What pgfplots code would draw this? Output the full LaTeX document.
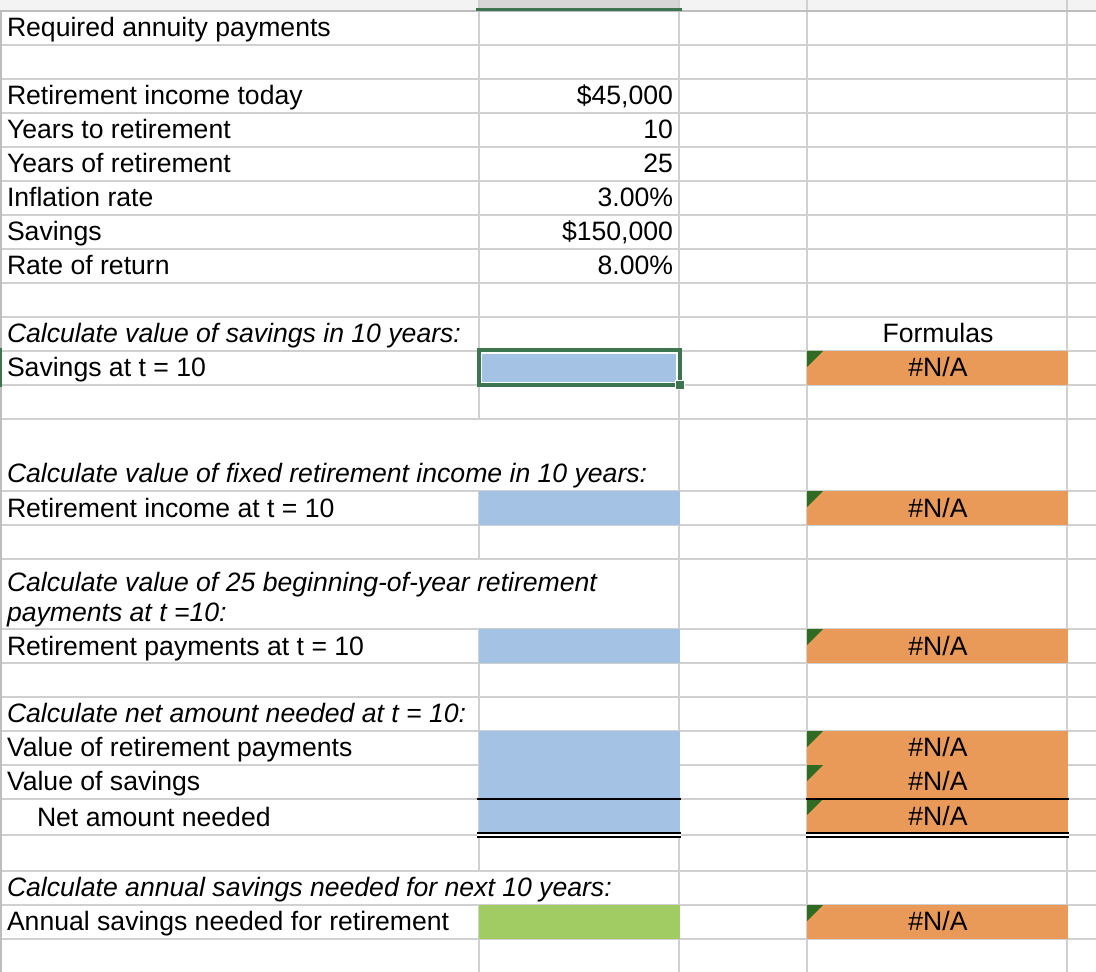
\documentclass[border=0pt]{standalone}
\usepackage{pgfplots}
\pgfplotsset{compat=1.18}
\usepackage{fontspec}
\setmainfont{Liberation Sans}
\definecolor{gridc}{HTML}{D0D0D0}
\definecolor{cellblue}{HTML}{A4C2E4}
\definecolor{cellorange}{HTML}{EA9A58}
\definecolor{cellgreen}{HTML}{A1CC63}
\definecolor{selgreen}{HTML}{3C7550}
\definecolor{tri}{HTML}{2F6B22}
\definecolor{hdr}{HTML}{F3F3F3}
\definecolor{hdrsel}{HTML}{D6D6D6}
\definecolor{hdrline}{HTML}{BDBDBD}
\newcommand\fs{\fontsize{13.3pt}{15pt}\selectfont}
\newcommand\cell[5]{\addplot[fill=#5,draw=none,forget plot] coordinates {(#1,#2) (#3,#2) (#3,#4) (#1,#4)} -- cycle;}
\newcommand\tri[1]{\addplot[fill=tri,draw=none,forget plot] coordinates {(807,#1) (823,#1) (807,#1+16)} -- cycle;}
\begin{document}
\begin{tikzpicture}[tx/.style={inner sep=0pt, outer sep=0pt, font=\fs}]
\begin{axis}[scale only axis, width=548pt, height=486pt,
  xmin=0, xmax=1096, ymin=0, ymax=972, y dir=reverse,
  axis lines=none, clip=false]
% header strip
\cell{0}{0}{1096}{10}{hdr}
\cell{478}{0}{680}{10}{hdrsel}
\pgfplotsinvokeforeach{479,679,807,1067}{\draw[gridc, line width=1pt] (axis cs:#1,0) -- (axis cs:#1,10);}
% horizontal grid
\pgfplotsinvokeforeach{45,79,113,147,181,215,249,283,317,351,385,419,491,525,559,629,663,697,731,765,799,835,871,905,939}{\draw[gridc, line width=0.55pt] (axis cs:0,#1) -- (axis cs:1096,#1);}
% vertical grid
\draw[gridc, line width=0.55pt] (axis cs:479,11) -- (axis cs:479,419);
\draw[gridc, line width=0.55pt] (axis cs:479,491) -- (axis cs:479,559);
\draw[gridc, line width=0.55pt] (axis cs:479,629) -- (axis cs:479,871);
\draw[gridc, line width=0.55pt] (axis cs:479,905) -- (axis cs:479,972);
\pgfplotsinvokeforeach{679,807,1067}{\draw[gridc, line width=0.55pt] (axis cs:#1,11) -- (axis cs:#1,972);}
% header bottom line
\draw[hdrline, line width=1pt] (axis cs:0,11) -- (axis cs:1096,11);
\draw[selgreen, line width=1.5pt] (axis cs:476,9.3) -- (axis cs:682,9.3);
% left edge
\draw[hdrline, line width=1.2pt] (axis cs:1,11) -- (axis cs:1,972);
\draw[selgreen, line width=1.2pt] (axis cs:1,348) -- (axis cs:1,387);
% blue input cells
\cell{482}{354}{676}{382}{cellblue}
\cell{479}{491}{680}{525}{cellblue}
\cell{479}{629}{680}{663}{cellblue}
\cell{479}{731}{680}{833}{cellblue}
\cell{479}{905}{680}{939}{cellgreen}
% orange formula cells
\cell{807}{351}{1068}{385}{cellorange}
\cell{807}{491}{1068}{525}{cellorange}
\cell{807}{629}{1068}{663}{cellorange}
\cell{807}{731}{1068}{833}{cellorange}
\cell{807}{905}{1068}{939}{cellorange}
% comment triangles
\tri{351}\tri{491}\tri{629}\tri{731}\tri{765}\tri{799}\tri{905}
% borders
\draw[black, line width=0.75pt] (axis cs:477,799) -- (axis cs:681,799);
\draw[black, line width=0.75pt] (axis cs:806,799) -- (axis cs:1069,799);
\cell{477}{833}{681}{837}{white}
\cell{806}{833}{1069}{837}{white}
\draw[black, line width=0.65pt] (axis cs:477,833) -- (axis cs:681,833);
\draw[black, line width=0.65pt] (axis cs:477,837) -- (axis cs:681,837);
\draw[black, line width=0.65pt] (axis cs:806,833) -- (axis cs:1069,833);
\draw[black, line width=0.65pt] (axis cs:806,837) -- (axis cs:1069,837);
% selected cell
\draw[selgreen, line width=2pt] (axis cs:478.5,350.3) rectangle (axis cs:679.5,385.5);
\draw[white, line width=0.5pt, fill=selgreen] (axis cs:675,381) rectangle (axis cs:684,390);
% texts column A
\node[tx, anchor=base west] at (axis cs:7,37) {Required annuity payments};
\node[tx, anchor=base west] at (axis cs:7,105) {Retirement income today};
\node[tx, anchor=base west] at (axis cs:7,139) {Years to retirement};
\node[tx, anchor=base west] at (axis cs:7,173) {Years of retirement};
\node[tx, anchor=base west] at (axis cs:7,207) {Inflation rate};
\node[tx, anchor=base west] at (axis cs:7,241) {Savings};
\node[tx, anchor=base west] at (axis cs:7,275) {Rate of return};
\node[tx, anchor=base west] at (axis cs:7,343) {\itshape Calculate value of savings in 10 years:};
\node[tx, anchor=base west] at (axis cs:7,377) {Savings at t = 10};
\node[tx, anchor=base west] at (axis cs:7,482) {\itshape Calculate value of fixed retirement income in 10 years:};
\node[tx, anchor=base west] at (axis cs:7,517) {Retirement income at t = 10};
\node[tx, anchor=base west] at (axis cs:7,591) {\itshape Calculate value of 25 beginning-of-year retirement};
\node[tx, anchor=base west] at (axis cs:7,621) {\itshape payments at t =10:};
\node[tx, anchor=base west] at (axis cs:7,655) {Retirement payments at t = 10};
\node[tx, anchor=base west] at (axis cs:7,722) {\itshape Calculate net amount needed at t = 10:};
\node[tx, anchor=base west] at (axis cs:7,756) {Value of retirement payments};
\node[tx, anchor=base west] at (axis cs:7,790) {Value of savings};
\node[tx, anchor=base west] at (axis cs:37,826) {Net amount needed};
\node[tx, anchor=base west] at (axis cs:7,896) {\itshape Calculate annual savings needed for next 10 years:};
\node[tx, anchor=base west] at (axis cs:7,930) {Annual savings needed for retirement};
% values column B
\node[tx, anchor=base east] at (axis cs:673,105) {\$45,000};
\node[tx, anchor=base east] at (axis cs:673,139) {10};
\node[tx, anchor=base east] at (axis cs:673,173) {25};
\node[tx, anchor=base east] at (axis cs:673,207) {3.00\%};
\node[tx, anchor=base east] at (axis cs:673,241) {\$150,000};
\node[tx, anchor=base east] at (axis cs:673,275) {8.00\%};
% formulas column D
\node[tx, anchor=base] at (axis cs:938,343) {Formulas};
\node[tx, anchor=base] at (axis cs:938,377) {\#N/A};
\node[tx, anchor=base] at (axis cs:938,517) {\#N/A};
\node[tx, anchor=base] at (axis cs:938,655) {\#N/A};
\node[tx, anchor=base] at (axis cs:938,756) {\#N/A};
\node[tx, anchor=base] at (axis cs:938,790) {\#N/A};
\node[tx, anchor=base] at (axis cs:938,825) {\#N/A};
\node[tx, anchor=base] at (axis cs:938,930) {\#N/A};
\end{axis}
\pgfresetboundingbox
\path (current axis.south west) rectangle (current axis.north east);
\end{tikzpicture}
\end{document}
